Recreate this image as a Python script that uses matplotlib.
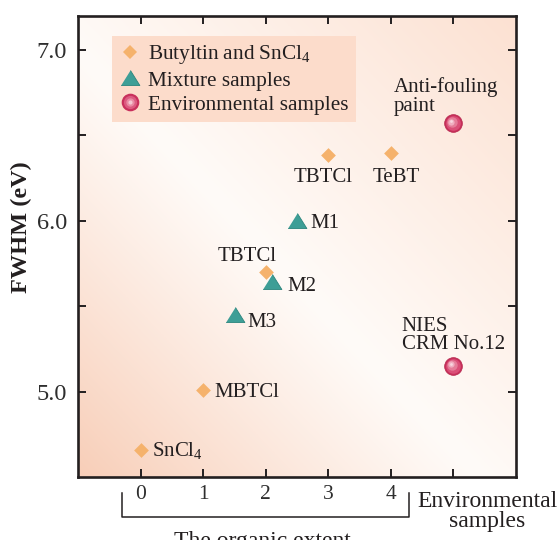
import numpy as np
import matplotlib
matplotlib.use('Agg')
import matplotlib.pyplot as plt
from matplotlib.legend_handler import HandlerTuple
from matplotlib.lines import Line2D
import matplotlib.transforms as mtransforms

plt.rcParams['font.family'] = ['Liberation Serif', 'DejaVu Serif']
plt.rcParams['mathtext.fontset'] = 'custom'
plt.rcParams['mathtext.rm'] = 'Liberation Serif'
plt.rcParams['mathtext.it'] = 'Liberation Serif:italic'

# butyltin compounds and SnCl4
butyl_x = [0, 1, 2, 3, 4]
butyl_y = [4.66, 5.01, 5.70, 6.385, 6.395]
butyl_names = ['SnCl$_4$', 'MBTCl', 'TBTCl', 'TBTCl', 'TeBT']

# mixtures
mix_x = [2.5, 2.1, 1.5]
mix_y = [6.00, 5.64, 5.45]
mix_names = ['M1', 'M2', 'M3']

# environmental samples (plotted at x = 5)
env_x = [5, 5]
env_y = [6.57, 5.15]
env_names = ['Anti-fouling\npaint', 'NIES\nCRM No.12']

xtick_pos = [0, 1, 2, 3, 4, 5]
xtick_labels = ['0', '1', '2', '3', '4', '']
ytick_pos = [5.0, 6.0, 7.0]
ytick_labels = ['5.0', '6.0', '7.0']

# label offsets in points (dx, dy), baseline of last line
butyl_off = [(8, -4, 'left'), (8, -5, 'left'), (-13.5, 7.7, 'center'),
             (-3.4, -19.4, 'center'), (3.9, -20.6, 'center')]
mix_off = [(9.4, -5.4), (10.8, -6.5), (9.2, -8.4)]
env_off = [(-42.5, 9.1), (-37.2, 12.5)]

txt = '#231F20'
orange = '#F5B26C'
teal = '#3E9E96'

fig = plt.figure(figsize=(5.57, 5.40), dpi=100)
ax = fig.add_axes([0.1406, 0.1161, 0.7853, 0.8548])

# background gradient
n = 300
u, v = np.meshgrid(np.linspace(0, 1, n), np.linspace(0, 1, n))
t = u + v
c = 0.92
bl = np.array([248, 206, 184]) / 255
tr = np.array([252, 225, 210]) / 255
white = np.array([255, 251, 248]) / 255
f_lo = np.clip((c - t) / c, 0, 1) ** 1.1
f_hi = np.clip((t - c) / (2 - c), 0, 1) ** 1.0
img = (white[None, None, :] * (1 - f_lo - f_hi)[..., None]
       + bl[None, None, :] * f_lo[..., None] + tr[None, None, :] * f_hi[..., None])
ax.imshow(img, extent=[0, 1, 0, 1], origin='lower', transform=ax.transAxes,
          aspect='auto', zorder=0)

ax.scatter(butyl_x, butyl_y, marker='D', s=7.5 ** 2, color=orange, lw=0, zorder=3)

tri = [(-1, -0.75), (1, -0.75), (0, 0.85)]
ax.scatter(mix_x, mix_y, marker=tri, s=13.5 ** 2, color=teal,
           edgecolor='#2A847C', lw=0.6, zorder=4)

# shaded spheres
ax.scatter(env_x, env_y, marker='o', s=12.7 ** 2, color='#C9305C',
           edgecolor='#B8284F', lw=0.6, zorder=3)
for size, col, shift in [(10.5, '#DA4F77', 0.4), (7.5, '#E57C98', 0.9),
                         (4.5, '#F0AEC0', 1.3), (2.0, '#F9D8E0', 1.5)]:
    tr_off = mtransforms.offset_copy(ax.transData, fig=fig, x=-shift, y=shift, units='points')
    ax.scatter(env_x, env_y, marker='o', s=size ** 2, color=col, lw=0,
               transform=tr_off, zorder=3)

for x, y, name, (dx, dy, ha) in zip(butyl_x, butyl_y, butyl_names, butyl_off):
    ax.annotate(name, (x, y), xytext=(dx, dy), textcoords='offset points',
                ha=ha, va='baseline', fontsize=15, color=txt, zorder=5)
for x, y, name, (dx, dy) in zip(mix_x, mix_y, mix_names, mix_off):
    ax.annotate(name, (x, y), xytext=(dx, dy), textcoords='offset points',
                ha='left', va='baseline', fontsize=15, color=txt, zorder=5)
for x, y, name, (dx, dy) in zip(env_x, env_y, env_names, env_off):
    ax.annotate(name, (x, y), xytext=(dx, dy), textcoords='offset points',
                ha='left', va='baseline', fontsize=15, color=txt, zorder=5,
                linespacing=0.95)

ax.set_xlim(-1, 6)
ax.set_ylim(4.5, 7.2)
ax.set_xticks(xtick_pos)
ax.set_xticklabels(xtick_labels)
ax.set_yticks(ytick_pos)
ax.set_yticklabels(ytick_labels)
ax.set_yticks([5.5, 6.5], minor=True)
ax.tick_params(which='both', direction='in', length=5.8, width=1.4,
               top=True, right=True, color=txt)
ax.tick_params(axis='y', labelsize=17.5, pad=8.3, labelcolor='#2E2E2E')
ax.tick_params(axis='x', labelsize=15.5, pad=5.5, labelcolor='#2E2E2E')
for sp in ax.spines.values():
    sp.set_linewidth(1.9)
    sp.set_color(txt)

ax.text(-0.131, 0.541, 'FWHM (eV)', transform=ax.transAxes, rotation=90,
        ha='center', va='center', fontsize=17.5, fontweight='bold', color=txt)

# bracket for the organic extent
btrans = mtransforms.blended_transform_factory(ax.transData, ax.transAxes)
ax.plot([-0.294, -0.294, 4.29, 4.29], [-0.0334, -0.0854, -0.0854, -0.0334],
        transform=btrans, clip_on=False, color=txt, lw=1.1)
ax.annotate('The organic extent', (1.94, 0), xycoords=btrans,
            xytext=(0, -50.2), textcoords='offset points', ha='center',
            va='baseline', fontsize=17, color=txt, annotation_clip=False)
ax.annotate('Environmental\nsamples', (5, 0), xycoords=btrans,
            xytext=(24.7, -35.6), textcoords='offset points', ha='center',
            va='baseline', fontsize=17, color=txt, linespacing=0.95,
            multialignment='center', annotation_clip=False)

handles = [
    Line2D([], [], marker='D', ls='none', ms=7.5, color=orange, mew=0),
    Line2D([], [], marker=tri, ls='none', ms=13.5, color=teal, mec='#2A847C', mew=0.6),
    (Line2D([], [], marker='o', ls='none', ms=12.7, color='#C9305C', mew=0),
     Line2D([], [], marker='o', ls='none', ms=9.5, color='#DC5A80', mew=0),
     Line2D([], [], marker='o', ls='none', ms=6, color='#E98AA3', mew=0),
     Line2D([], [], marker='o', ls='none', ms=3, color='#F5C6D2', mew=0)),
]
labels = ['Butyltin and SnCl$_4$', 'Mixture samples', 'Environmental samples']
leg = ax.legend(handles, labels, loc='upper left', bbox_to_anchor=(0.077, 0.956),
                borderaxespad=0, borderpad=0.35, handlelength=1.0, handletextpad=0.35,
                labelspacing=0.2, fontsize=15.3, frameon=True, fancybox=False,
                facecolor='#FCDCCB', edgecolor='none', framealpha=1,
                handler_map={tuple: HandlerTuple(ndivide=1)})
for t_ in leg.get_texts():
    t_.set_color(txt)

fig.savefig('out.png', dpi=100)
